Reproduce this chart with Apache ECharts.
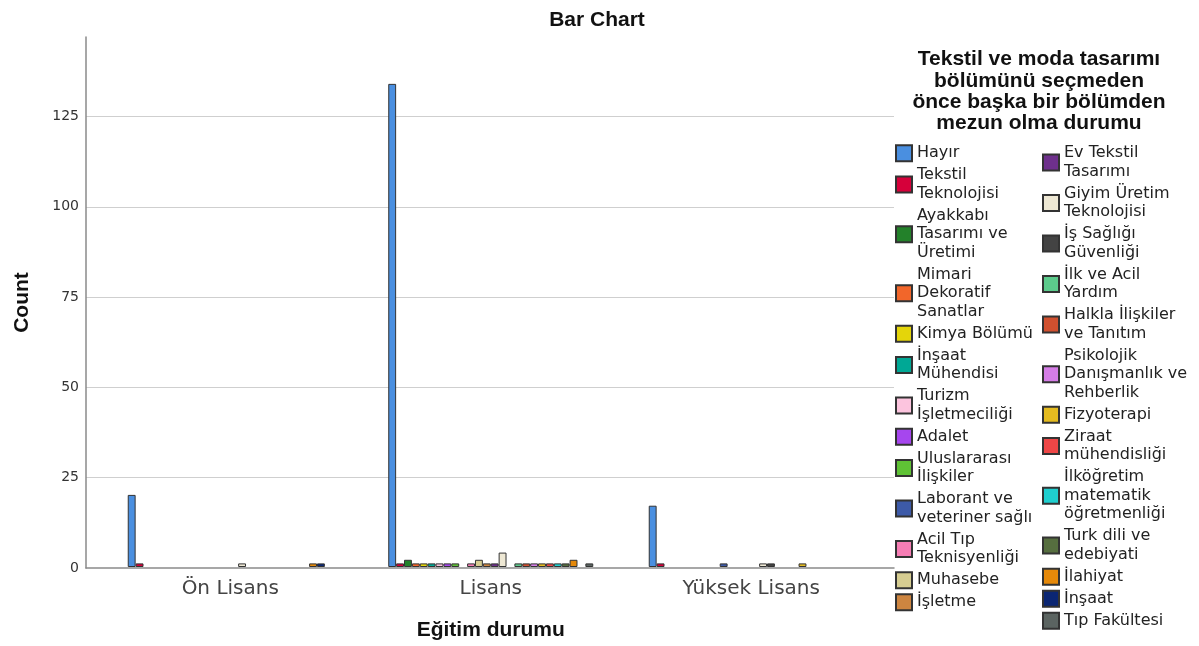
<!DOCTYPE html>
<html>
<head>
<meta charset="utf-8">
<script src="https://cdn.jsdelivr.net/npm/echarts@6/dist/echarts.min.js"></script>
<style>html,body{margin:0;padding:0;background:#fff}#c{width:1199px;height:646px}</style>
</head>
<body>
<div id="c"></div>
<script>
// ---- data ----
var categories = ['Ön Lisans', 'Lisans', 'Yüksek Lisans'];
var seriesNames = [
  'Hayır', 'Tekstil Teknolojisi', 'Ayakkabı Tasarımı ve Üretimi', 'Mimari Dekoratif Sanatlar',
  'Kimya Bölümü', 'İnşaat Mühendisi', 'Turizm İşletmeciliği', 'Adalet', 'Uluslararası İlişkiler',
  'Laborant ve veteriner sağlı', 'Acil Tıp Teknisyenliği', 'Muhasebe', 'İşletme',
  'Ev Tekstil Tasarımı', 'Giyim Üretim Teknolojisi', 'İş Sağlığı Güvenliği', 'İlk ve Acil Yardım',
  'Halkla İlişkiler ve Tanıtım', 'Psikolojik Danışmanlık ve Rehberlik', 'Fizyoterapi',
  'Ziraat mühendisliği', 'İlköğretim matematik öğretmenliği', 'Turk dili ve edebiyati',
  'İlahiyat', 'İnşaat', 'Tıp Fakültesi'
];
var legendLabels = [
  'Hayır', 'Tekstil\nTeknolojisi', 'Ayakkabı\nTasarımı ve\nÜretimi', 'Mimari\nDekoratif\nSanatlar',
  'Kimya Bölümü', 'İnşaat\nMühendisi', 'Turizm\nİşletmeciliği', 'Adalet', 'Uluslararası\nİlişkiler',
  'Laborant ve\nveteriner sağlı', 'Acil Tıp\nTeknisyenliği', 'Muhasebe', 'İşletme',
  'Ev Tekstil\nTasarımı', 'Giyim Üretim\nTeknolojisi', 'İş Sağlığı\nGüvenliği', 'İlk ve Acil\nYardım',
  'Halkla İlişkiler\nve Tanıtım', 'Psikolojik\nDanışmanlık ve\nRehberlik', 'Fizyoterapi',
  'Ziraat\nmühendisliği', 'İlköğretim\nmatematik\nöğretmenliği', 'Turk dili ve\nedebiyati',
  'İlahiyat', 'İnşaat', 'Tıp Fakültesi'
];
// counts per category, one value per series (same order as seriesNames)
var onLisans     = [20, 1, 0, 0, 0, 0, 0, 0, 0, 0, 0, 0, 0, 0, 1, 0, 0, 0, 0, 0, 0, 0, 0, 1, 1, 0];
var lisans       = [134, 1, 2, 1, 1, 1, 1, 1, 1, 0, 1, 2, 1, 1, 4, 0, 1, 1, 1, 1, 1, 1, 1, 2, 0, 1];
var yuksekLisans = [17, 1, 0, 0, 0, 0, 0, 0, 0, 1, 0, 0, 0, 0, 1, 1, 0, 0, 0, 1, 0, 0, 0, 0, 0, 0];
var yTicks = [0, 25, 50, 75, 100, 125];
var colors = [
  '#4a8fe0', '#d6003a', '#23812a', '#f2662a', '#e4d50a', '#00a895', '#fcc4de', '#a646ee',
  '#5fc235', '#3d5aa8', '#f67db4', '#d6cd91', '#cd8540', '#6e308c', '#eee8d4', '#434343',
  '#5ccb8c', '#d0502f', '#d57de6', '#e4bb20', '#ee4646', '#1fcfcf', '#566e3f', '#e5890a',
  '#0b2673', '#5b6461'
];

// ---- chart ----
var byCat = [onLisans, lisans, yuksekLisans];
var series = seriesNames.map(function (name, i) {
  return {
    name: name,
    type: 'bar',
    xAxisIndex: 0,
    yAxisIndex: 0,
    barGap: '0%',
    barCategoryGap: '21.3%',
    itemStyle: { color: colors[i], borderColor: '#333', borderWidth: 1 },
    emphasis: { disabled: true },
    data: byCat.map(function (arr) { return arr[i] === 0 ? null : arr[i]; })
  };
});
var labelMap = {};
seriesNames.forEach(function (n, i) { labelMap[n] = legendLabels[i]; });

var legendCommon = {
  orient: 'vertical',
  top: 144,
  icon: 'rect',
  itemWidth: 16,
  itemHeight: 16,
  itemGap: 3.5,
  selectedMode: false,
  padding: 0,
  formatter: function (n) { return labelMap[n]; },
  textStyle: { fontFamily: 'DejaVu Sans', fontSize: 16, lineHeight: 18.5, color: '#222' }
};

var option = {
  animation: false,
  color: colors,
  title: [
    { text: 'Bar Chart', left: 592, top: 5, textAlign: 'center',
      textStyle: { fontFamily: 'Liberation Sans', fontWeight: 'bold', fontSize: 21, color: '#111' } },
    { text: 'Tekstil ve moda tasarımı\nbölümünü seçmeden\nönce başka bir bölümden\nmezun olma durumu',
      left: 1034, top: 44, textAlign: 'center',
      textStyle: { fontFamily: 'Liberation Sans', fontWeight: 'bold', fontSize: 21, lineHeight: 21.3, color: '#111', align: 'center' } }
  ],
  legend: [
    Object.assign({}, legendCommon, { left: 895, data: seriesNames.slice(0, 13) }),
    Object.assign({}, legendCommon, { left: 1042, data: seriesNames.slice(13) })
  ],
  grid: [
    { left: 100, width: 781.5, top: 37, bottom: 78 },
    { left: 86, width: 808, top: 37, bottom: 78 }
  ],
  xAxis: [
    { type: 'category', gridIndex: 0, data: categories,
      axisLine: { show: false }, axisTick: { show: false },
      axisLabel: { fontFamily: 'DejaVu Sans', fontSize: 20, color: '#444', margin: 12 },
      name: 'Eğitim durumu', nameLocation: 'middle', nameGap: 53,
      nameTextStyle: { fontFamily: 'Liberation Sans', fontWeight: 'bold', fontSize: 21, color: '#111' } },
    { type: 'value', gridIndex: 1, min: 0, max: 1,
      axisLine: { show: true, onZero: false, lineStyle: { color: '#8a8a8a', width: 1.5 } },
      axisTick: { show: false }, axisLabel: { show: false }, splitLine: { show: false } }
  ],
  yAxis: [
    { type: 'value', gridIndex: 0, min: 0, max: 147, show: false, splitLine: { show: false } },
    { type: 'value', gridIndex: 1, min: 0, max: 147, interval: 25,
      axisLine: { show: true, lineStyle: { color: '#8a8a8a', width: 1.5 } },
      axisTick: { show: false },
      axisLabel: { fontFamily: 'DejaVu Sans', fontSize: 14, color: '#333', margin: 7, showMaxLabel: false,
        formatter: function (v) { return yTicks.indexOf(v) >= 0 ? String(v) : ''; } },
      splitLine: { show: true, showMinLine: false, showMaxLine: false, lineStyle: { color: '#cfcfcf', width: 1 } },
      name: 'Count', nameLocation: 'middle', nameGap: 53, nameRotate: 90,
      nameTextStyle: { fontFamily: 'Liberation Sans', fontWeight: 'bold', fontSize: 21, color: '#111' } }
  ],
  series: series
};
var chart = echarts.init(document.getElementById('c'), null, { renderer: 'canvas' });
chart.setOption(option);
</script>
</body>
</html>
